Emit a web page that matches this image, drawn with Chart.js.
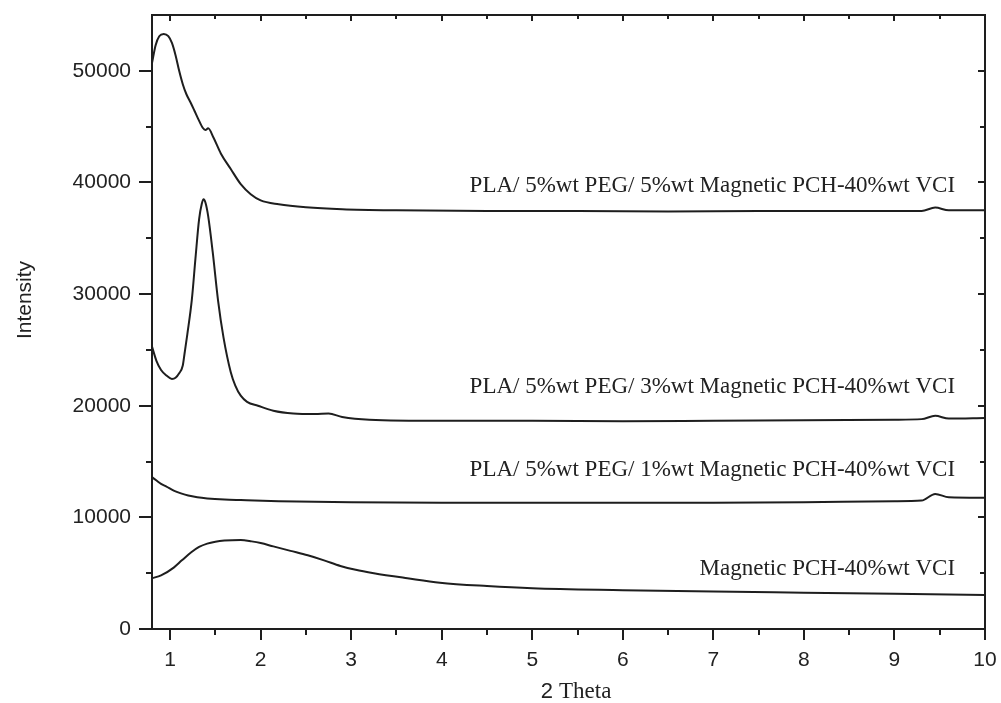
<!DOCTYPE html>
<html>
<head>
<meta charset="utf-8">
<script src="https://cdn.jsdelivr.net/npm/chart.js@4.4.1/dist/chart.umd.min.js"></script>
<style>
  html, body { margin: 0; padding: 0; background: #fff; }
  #wrap { width: 1001px; height: 703px; }
</style>
</head>
<body>
<div id="wrap"><canvas id="graph" width="1001" height="703"></canvas></div>
<script>
// 2 Theta / Intensity readings, one pair of arrays per sample
const thetaA = [0.8, 0.84, 0.88, 0.93, 0.98, 1.02, 1.06, 1.1, 1.14, 1.18, 1.23, 1.27, 1.31, 1.36, 1.39, 1.42, 1.48, 1.56, 1.67, 1.78, 1.89, 2.0, 2.2, 2.5, 2.9, 3.5, 4.5, 5.5, 6.5, 7.5, 8.5, 9.3, 9.45, 9.6, 10]
const intensityA = [50700, 52300, 53100, 53300, 53100, 52500, 51400, 50000, 48800, 47900, 47100, 46400, 45700, 44900, 44700, 44850, 44000, 42600, 41200, 39850, 38950, 38400, 38050, 37780, 37600, 37500, 37450, 37450, 37400, 37450, 37450, 37450, 37750, 37500, 37500]

const thetaB = [0.8, 0.85, 0.9, 0.96, 1.02, 1.06, 1.1, 1.14, 1.16, 1.19, 1.24, 1.28, 1.32, 1.35, 1.37, 1.39, 1.42, 1.47, 1.53, 1.59, 1.67, 1.72, 1.78, 1.85, 1.97, 2.14, 2.36, 2.6, 2.75, 2.9, 3.2, 4, 5, 6, 7, 8, 9, 9.3, 9.45, 9.6, 10]
const intensityB = [25300, 24000, 23200, 22700, 22400, 22500, 22900, 23600, 24700, 26400, 29500, 33200, 36700, 38100, 38500, 38200, 37000, 33800, 29400, 26100, 23000, 21800, 20900, 20350, 20000, 19550, 19300, 19250, 19300, 19000, 18750, 18650, 18650, 18600, 18650, 18700, 18750, 18800, 19100, 18850, 18900]

const thetaC = [0.8, 0.85, 0.9, 0.96, 1.04, 1.12, 1.2, 1.3, 1.41, 1.6, 1.78, 2.2, 3, 4, 5, 6, 7, 8, 9, 9.3, 9.45, 9.6, 10]
const intensityC = [13600, 13300, 13000, 12750, 12400, 12150, 11950, 11800, 11700, 11600, 11550, 11450, 11350, 11300, 11300, 11300, 11300, 11350, 11450, 11500, 12100, 11800, 11750]

const thetaD = [0.8, 0.9, 1.04, 1.13, 1.23, 1.32, 1.41, 1.5, 1.6, 1.78, 1.9, 2.0, 2.14, 2.33, 2.52, 2.7, 2.88, 3.05, 3.25, 3.62, 3.98, 4.5, 5, 6, 7, 8, 9, 10]
const intensityD = [4550, 4800, 5500, 6150, 6850, 7350, 7650, 7820, 7920, 7970, 7850, 7700, 7400, 7000, 6600, 6150, 5650, 5300, 5000, 4550, 4150, 3850, 3650, 3480, 3350, 3250, 3150, 3050]

const sampleNames = [
    "PLA/ 5%wt PEG/ 5%wt Magnetic PCH-40%wt VCI",
    "PLA/ 5%wt PEG/ 3%wt Magnetic PCH-40%wt VCI",
    "PLA/ 5%wt PEG/ 1%wt Magnetic PCH-40%wt VCI",
    "Magnetic PCH-40%wt VCI"
]
const xTicks = [1, 2, 3, 4, 5, 6, 7, 8, 9, 10]
const yTicks = [0, 10000, 20000, 30000, 40000, 50000]

// where each name sits (right edge, vertical middle), in data units
const labelAnchors = [[9.67, 39700], [9.67, 21700], [9.67, 14250], [9.67, 5400]]

const ink = "#1e1e1e"
const pair = (xs, ys) => xs.map((x, i) => ({ x: x, y: ys[i] }))
const line = (xs, ys) => ({
    data: pair(xs, ys),
    borderColor: ink,
    borderWidth: 2,
    pointRadius: 0,
    cubicInterpolationMode: "monotone",
    fill: false
})
const noPad = s => { s.paddingLeft = 0; s.paddingRight = 0; s.paddingTop = 0; s.paddingBottom = 0 }

const frame = {
    id: "frame",
    afterDraw(chart) {
        const ctx = chart.ctx
        const a = chart.chartArea
        const x = chart.scales.x
        const y = chart.scales.y
        ctx.save()
        ctx.strokeStyle = ink
        ctx.lineWidth = 2
        ctx.strokeRect(a.left, a.top, a.right - a.left, a.bottom - a.top)
        ctx.beginPath()
        for (let v = 1; v <= 10; v += 0.5) {
            const px = Math.round(x.getPixelForValue(v))
            const major = Number.isInteger(v)
            ctx.moveTo(px, a.bottom); ctx.lineTo(px, a.bottom + (major ? 11 : 6))
            ctx.moveTo(px, a.top); ctx.lineTo(px, a.top + (major ? 6 : 4))
        }
        for (let v = 0; v <= 50000; v += 5000) {
            const py = Math.round(y.getPixelForValue(v))
            const major = v % 10000 === 0
            ctx.moveTo(a.left, py); ctx.lineTo(a.left - (major ? 13 : 6), py)
            ctx.moveTo(a.right, py); ctx.lineTo(a.right - (major ? 7 : 5), py)
        }
        ctx.stroke()

        // sample names
        ctx.fillStyle = "#222"
        ctx.font = "23px 'Liberation Serif', 'Times New Roman', serif"
        ctx.textAlign = "right"
        ctx.textBaseline = "middle"
        sampleNames.forEach((name, i) => {
            ctx.fillText(name, x.getPixelForValue(labelAnchors[i][0]), y.getPixelForValue(labelAnchors[i][1]))
        })

        // axis titles
        ctx.save()
        ctx.translate(25, 300)
        ctx.rotate(-Math.PI / 2)
        ctx.textAlign = "center"
        ctx.font = "21px 'Liberation Sans', Arial, sans-serif"
        ctx.fillText("Intensity", 0, 0)
        ctx.restore()

        ctx.textAlign = "left"
        ctx.font = "22px 'Liberation Sans', Arial, sans-serif"
        const w2 = ctx.measureText("2 ").width
        ctx.font = "23px 'Liberation Serif', 'Times New Roman', serif"
        const wT = ctx.measureText("Theta").width
        const start = 576 - (w2 + wT) / 2
        ctx.font = "22px 'Liberation Sans', Arial, sans-serif"
        ctx.fillText("2 ", start, 692)
        ctx.font = "23px 'Liberation Serif', 'Times New Roman', serif"
        ctx.fillText("Theta", start + w2, 692)
        ctx.restore()
    }
}

const graph = new Chart(document.getElementById("graph").getContext("2d"), {
    type: "line",
    data: {
        datasets: [
            line(thetaA, intensityA),
            line(thetaB, intensityB),
            line(thetaC, intensityC),
            line(thetaD, intensityD)
        ]
    },
    options: {
        responsive: false,
        animation: false,
        layout: { padding: { left: 0, right: 16, top: 15, bottom: 0 } },
        plugins: {
            legend: { display: false },
            tooltip: { enabled: false }
        },
        scales: {
            x: {
                type: "linear",
                min: 0.8,
                max: 10,
                grid: { display: false, drawTicks: false },
                border: { display: false },
                afterBuildTicks: s => { s.ticks = xTicks.map(v => ({ value: v })) },
                afterFit: s => { s.height = 74; noPad(s) },
                ticks: {
                    padding: 19,
                    color: "#222",
                    font: { family: "'Liberation Sans', Arial, sans-serif", size: 21 },
                    maxRotation: 0,
                    autoSkip: false
                }
            },
            y: {
                type: "linear",
                min: 0,
                max: 55000,
                grid: { display: false, drawTicks: false },
                border: { display: false },
                afterBuildTicks: s => { s.ticks = yTicks.map(v => ({ value: v })) },
                afterFit: s => { s.width = 152; noPad(s) },
                ticks: {
                    padding: 21,
                    color: "#222",
                    font: { family: "'Liberation Sans', Arial, sans-serif", size: 21 },
                    callback: v => String(v)
                }
            }
        }
    },
    plugins: [frame]
})
</script>
</body>
</html>
